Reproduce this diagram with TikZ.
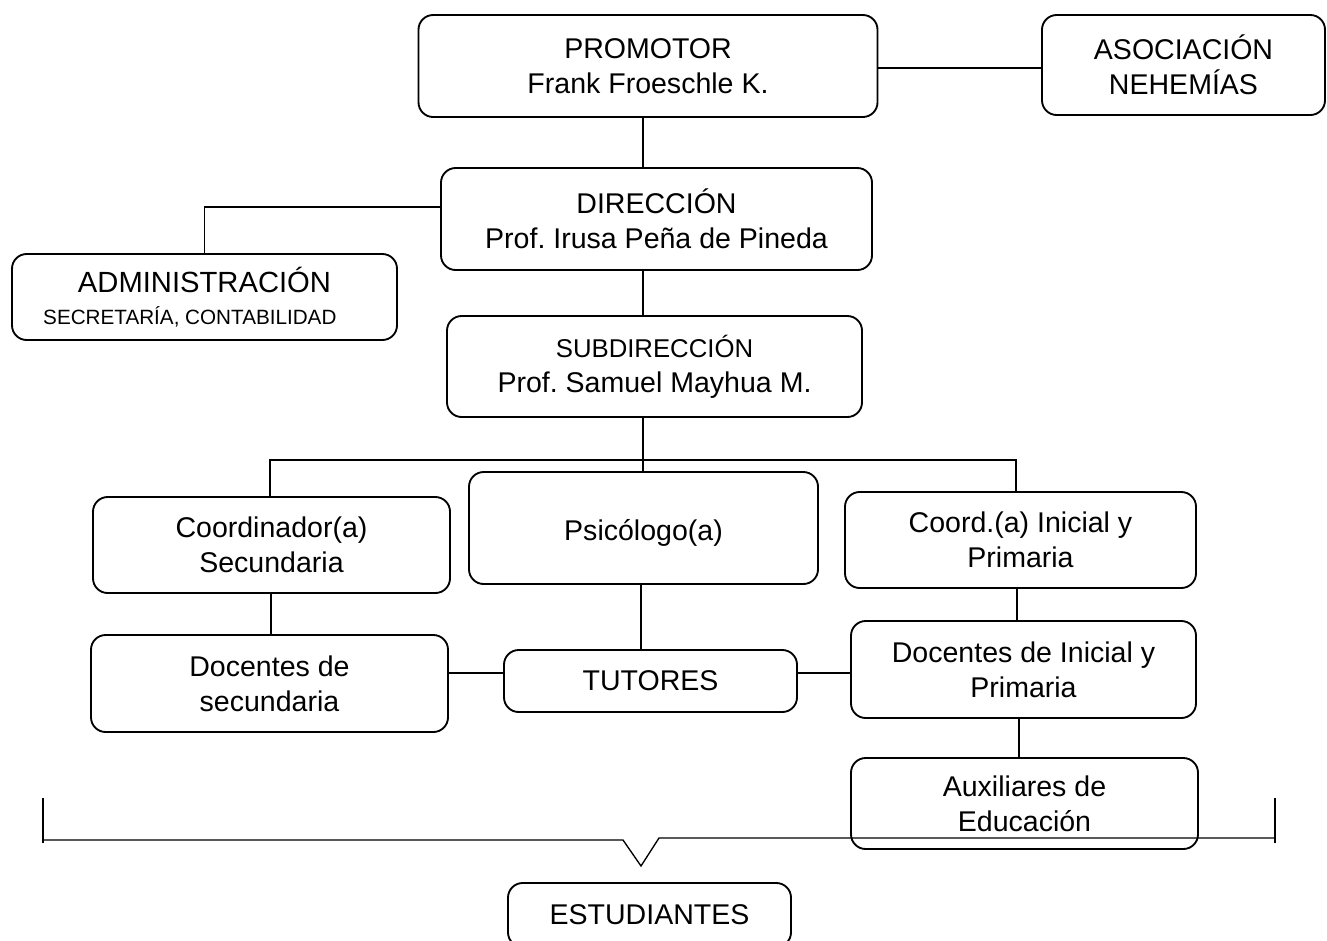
\documentclass[tikz,border=0pt]{standalone}
\usepackage{fontspec}
\setmainfont{Liberation Sans}
\frenchspacing
\newcommand{\mainsz}{\fontsize{21.4}{26.3}\selectfont}
\begin{document}
\begin{tikzpicture}[x=0.75pt,y=-0.75pt,
  box/.style 2 args={draw, line width=1.4pt, rounded corners=11pt, align=center,
    minimum width=#1*0.75pt, minimum height=#2*0.75pt, inner sep=0pt,
    font=\mainsz},
  link/.style={line width=1.4pt}]
\clip (0,0) rectangle (1327,940);
\fill[white] (0,0) rectangle (1327,940);
% nodes
\node[box={459}{102}] (prom) at (648,66) {PROMOTOR\\Frank Froeschle K.};
\node[box={283}{100}] (asoc) at (1183.5,65) {ASOCIACIÓN\\NEHEMÍAS};
\node[box={431}{102}] (dir) at (656.5,219) {DIRECCIÓN\\Prof. Irusa Peña de Pineda};
\node[box={385}{86}] (adm) at (204.5,297) {{\fontsize{21.9}{26}\selectfont ADMINISTRACIÓN}\\[-2pt]{\fontsize{15.5}{18}\selectfont SECRETARÍA, CONTABILIDAD\kern 22pt}};
\node[box={415}{101}] (sub) at (654.5,366.5) {{\fontsize{19.3}{23}\selectfont SUBDIRECCIÓN}\\Prof. Samuel Mayhua M.};
\node[box={357}{96}] (csec) at (271.5,545) {Coordinador(a)\\Secundaria};
\node[box={349}{112}] (psi) at (643.5,528) {\raisebox{-3.5pt}[\height][\depth]{Psicólogo(a)}};
\node[box={351}{96}] (cini) at (1020.5,540) {Coord.(a) Inicial y\\Primaria};
\node[box={357}{97}] (dsec) at (269.5,683.5) {Docentes de\\secundaria};
\node[box={293}{62}] (tut) at (650.5,681) {TUTORES};
\node[box={345}{97}] (dini) at (1023.5,669.5) {Docentes de Inicial y\\Primaria};
\node[box={347}{91}] (aux) at (1024.5,803.5) {Auxiliares de\\Educación};
\node[box={283}{64}] (est) at (649.5,915) {ESTUDIANTES};
% helper coordinates
\coordinate (cx) at (643,0);
\coordinate (bus) at (0,460);
\coordinate (ay) at (0,207);
\coordinate (ty) at (0,673);
\coordinate (py) at (0,68);
% connectors
\draw[link] (prom.east |- py) -- (asoc.west |- py);
\draw[link] (cx |- prom.south) -- (cx |- dir.north);
\draw[link] (dir.west |- ay) -| (adm.north);
\draw[link] (cx |- dir.south) -- (cx |- sub.north);
\draw[link] (cx |- sub.south) -- (cx |- bus);
\draw[link] (csec.north -| 270,0) |- (1016,460) -- (1016,492);
\draw[link] (cx |- bus) -- (psi.north -| cx);
\draw[link] (csec.south -| 271,0) -- (dsec.north -| 271,0);
\draw[link] (psi.south -| 641,0) -- (tut.north -| 641,0);
\draw[link] (dsec.east |- ty) -- (tut.west |- ty);
\draw[link] (tut.east |- ty) -- (dini.west |- ty);
\draw[link] (cini.south -| 1017,0) -- (dini.north -| 1017,0);
\draw[link] (dini.south -| 1019,0) -- (aux.north -| 1019,0);
% bracket
\coordinate (bl) at (43,798);
\coordinate (br) at (1275,798);
\coordinate (vl) at (623,840);
\coordinate (vb) at (641,866);
\coordinate (vr) at (659,838);
\draw[line width=1pt] (bl) -- (43,843);
\draw[line width=1pt] (br) -- (1275,843);
\draw[line width=1pt] (43,840) -- (vl) -- (vb) -- (vr) -- (1275,838);
\end{tikzpicture}
\end{document}
